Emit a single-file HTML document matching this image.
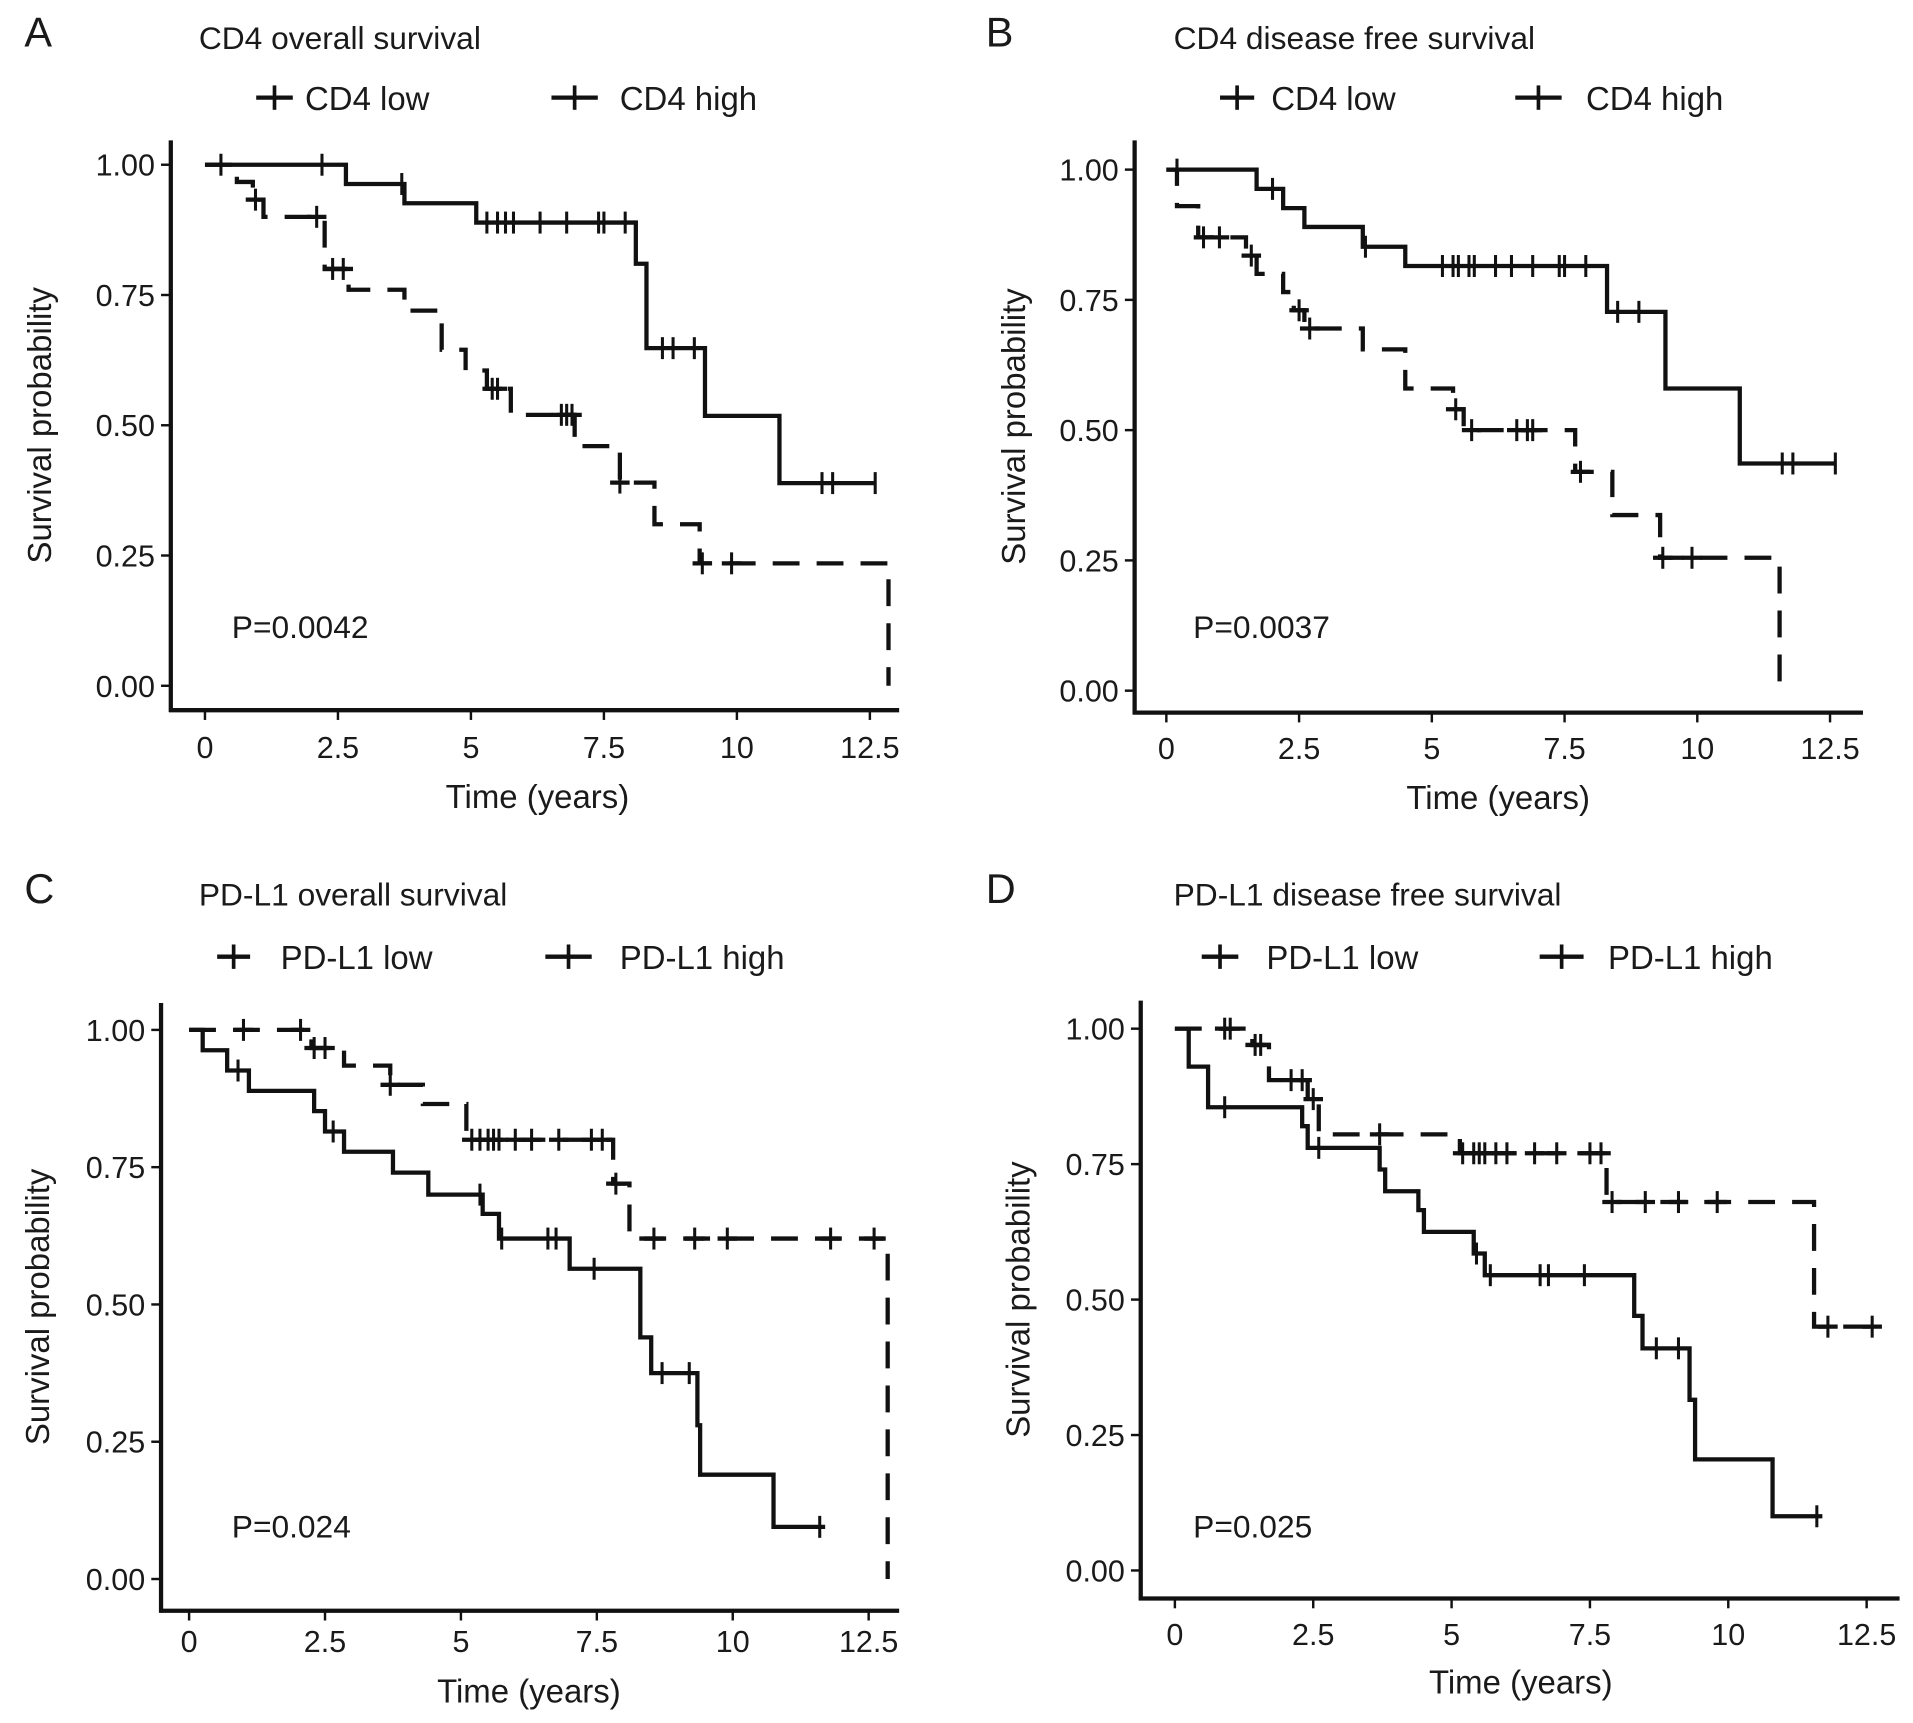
<!DOCTYPE html>
<html><head><meta charset="utf-8">
<style>
html,body{margin:0;padding:0;background:#fff;}
svg{display:block;}
text{font-family:"Liberation Sans",Arial,sans-serif;fill:#1a1a1a;}
</style></head>
<body>
<svg id="fig" width="1913" height="1723" viewBox="0 0 1568 1412" preserveAspectRatio="none" xmlns="http://www.w3.org/2000/svg"></svg>
<script>
// ---- data (time in years, survival probability) ----
const xTicks = [0, 2.5, 5, 7.5, 10, 12.5];
const xTickLabels = ["0", "2.5", "5", "7.5", "10", "12.5"];
const yTicks = [0, 0.25, 0.5, 0.75, 1.0];
const yTickLabels = ["0.00", "0.25", "0.50", "0.75", "1.00"];

// Panel A
const aHighT = [2.65, 3.75, 5.1, 8.1, 8.3, 9.4, 10.8];
const aHighS = [0.963, 0.926, 0.889, 0.81, 0.648, 0.518, 0.389];
const aHighC = [0.3, 2.2, 3.7, 5.3, 5.5, 5.65, 5.8, 6.3, 6.8, 7.4, 7.5, 7.9, 8.6, 8.8, 9.2, 11.6, 11.8, 12.6];
const aHighEnd = 12.6;
const aLowT = [0.6, 0.9, 1.1, 2.25, 2.7, 3.75, 4.45, 4.9, 5.3, 5.75, 6.95, 7.8, 8.45, 9.3, 12.85];
const aLowS = [0.967, 0.933, 0.9, 0.8, 0.76, 0.72, 0.645, 0.605, 0.57, 0.52, 0.46, 0.39, 0.31, 0.235, 0];
const aLowC = [0.95, 2.1, 2.4, 2.6, 5.4, 5.5, 6.7, 6.8, 6.9, 7.8, 9.35, 9.9];
const aLowEnd = 12.85;

// Panel B
const bHighT = [1.7, 2.2, 2.6, 3.7, 4.5, 8.3, 9.4, 10.8];
const bHighS = [0.963, 0.926, 0.89, 0.852, 0.815, 0.727, 0.58, 0.436];
const bHighC = [0.2, 2.0, 3.75, 5.2, 5.4, 5.5, 5.7, 5.8, 6.2, 6.5, 6.9, 7.4, 7.5, 7.9, 8.5, 8.9, 11.6, 11.8, 12.6];
const bHighEnd = 12.6;
const bLowT = [0.2, 0.6, 1.5, 1.7, 2.2, 2.4, 2.6, 3.7, 4.5, 5.4, 5.6, 7.7, 8.4, 9.3, 11.55];
const bLowS = [0.93, 0.87, 0.835, 0.8, 0.765, 0.73, 0.695, 0.655, 0.58, 0.54, 0.5, 0.42, 0.337, 0.255, 0];
const bLowC = [0.7, 1.0, 1.6, 2.5, 2.7, 5.45, 5.75, 6.6, 6.8, 6.9, 7.8, 9.35, 9.9];
const bLowEnd = 11.55;

// Panel C
const cHighT = [0.25, 0.7, 1.1, 2.3, 2.5, 2.85, 3.75, 4.4, 5.4, 5.7, 7.0, 8.3, 8.5, 9.35, 9.4, 10.75];
const cHighS = [0.963, 0.926, 0.889, 0.852, 0.815, 0.778, 0.74, 0.70, 0.665, 0.62, 0.565, 0.44, 0.375, 0.28, 0.19, 0.095];
const cHighC = [0.9, 2.65, 5.35, 5.75, 6.6, 6.75, 7.45, 8.7, 9.2, 11.6];
const cHighEnd = 11.7;
const cLowT = [2.25, 2.85, 3.7, 4.3, 5.1, 7.8, 8.1, 12.85];
const cLowS = [0.967, 0.935, 0.90, 0.865, 0.8, 0.72, 0.62, 0];
const cLowC = [1.0, 2.05, 2.3, 2.5, 3.7, 5.2, 5.35, 5.5, 5.6, 5.7, 6.0, 6.3, 6.8, 7.4, 7.6, 7.85, 8.55, 9.3, 9.9, 11.8, 12.6];
const cLowEnd = 12.85;

// Panel D
const dHighT = [0.25, 0.6, 2.3, 2.4, 3.7, 3.8, 4.4, 4.5, 5.4, 5.6, 8.3, 8.45, 9.3, 9.4, 10.8];
const dHighS = [0.93, 0.855, 0.82, 0.78, 0.74, 0.70, 0.665, 0.625, 0.585, 0.545, 0.47, 0.41, 0.315, 0.205, 0.1];
const dHighC = [0.9, 2.6, 5.45, 5.7, 6.6, 6.75, 7.4, 8.7, 9.1, 11.6];
const dHighEnd = 11.7;
const dLowT = [1.4, 1.7, 2.4, 2.6, 5.15, 7.8, 11.55];
const dLowS = [0.97, 0.905, 0.87, 0.805, 0.77, 0.68, 0.45];
const dLowC = [0.9, 1.0, 1.45, 1.55, 2.1, 2.3, 2.5, 3.7, 5.2, 5.4, 5.5, 5.6, 5.8, 6.0, 6.5, 6.9, 7.5, 7.7, 7.9, 8.5, 9.1, 9.8, 11.8, 12.6];
const dLowEnd = 12.65;

const NS = "http://www.w3.org/2000/svg";
const svg = document.getElementById("fig");
function mk(tag, attrs, parent) {
  const e = document.createElementNS(NS, tag);
  for (const k in attrs) e.setAttribute(k, attrs[k]);
  (parent || svg).appendChild(e);
  return e;
}
function txt(str, x, y, size, anchor, parent, name) {
  const t = mk("text", {x: x, y: y, "font-size": size, "text-anchor": anchor || "start"}, parent);
  t.textContent = str;
  
  
  return t;
}

const panels = [
  {id:"a", letter:"A", title:"CD4 overall survival", low:"CD4 low", high:"CD4 high", p:"P=0.0042",
   ax:140, top:115, bot:582, right:737, x0:168, x125:713, y1:135, y0:562,
   lx:20, tx:163, ty:40, ly:80, lowL:[210,240], lowTx:250, highL:[452,490], highTx:508, px:190, py:523, xlab:621, xt:662, yt:32,
   hT:aHighT, hS:aHighS, hC:aHighC, hE:aHighEnd, lT:aLowT, lS:aLowS, lC:aLowC, lE:aLowEnd},
  {id:"b", letter:"B", title:"CD4 disease free survival", low:"CD4 low", high:"CD4 high", p:"P=0.0037",
   ax:930, top:115, bot:584, right:1527, x0:956, x125:1500, y1:139, y0:566,
   lx:808, tx:962, ty:40, ly:80, lowL:[1000,1028], lowTx:1042, highL:[1242,1280], highTx:1300, px:978, py:523, xlab:622, xt:663, yt:830,
   hT:bHighT, hS:bHighS, hC:bHighC, hE:bHighEnd, lT:bLowT, lS:bLowS, lC:bLowC, lE:bLowEnd},
  {id:"c", letter:"C", title:"PD-L1 overall survival", low:"PD-L1 low", high:"PD-L1 high", p:"P=0.024",
   ax:132, top:822, bot:1320, right:737, x0:155, x125:712, y1:844, y0:1294,
   lx:20, tx:163, ty:742, ly:784, lowL:[178,205], lowTx:230, highL:[447,485], highTx:508, px:190, py:1260, xlab:1354, xt:1395, yt:30,
   hT:cHighT, hS:cHighS, hC:cHighC, hE:cHighEnd, lT:cLowT, lS:cLowS, lC:cLowC, lE:cLowEnd},
  {id:"d", letter:"D", title:"PD-L1 disease free survival", low:"PD-L1 low", high:"PD-L1 high", p:"P=0.025",
   ax:935, top:820, bot:1310, right:1557, x0:963, x125:1530, y1:843, y0:1287,
   lx:808, tx:962, ty:742, ly:784, lowL:[985,1015], lowTx:1038, highL:[1262,1298], highTx:1318, px:978, py:1260, xlab:1348, xt:1388, yt:834,
   hT:dHighT, hS:dHighS, hC:dHighC, hE:dHighEnd, lT:dLowT, lS:dLowS, lC:dLowC, lE:dLowEnd}
];

const DASH = "22 14";
function survAt(T, S, t) { let s = 1; for (let i = 0; i < T.length; i++) if (T[i] <= t) s = S[i]; return s; }
function stepPath(T, S, end, X, Y) {
  let d = "M" + X(0) + "," + Y(1); let s = 1;
  for (let i = 0; i < T.length; i++) {
    d += " L" + X(T[i]) + "," + Y(s) + " L" + X(T[i]) + "," + Y(S[i]); s = S[i];
  }
  if (end > T[T.length - 1]) d += " L" + X(end) + "," + Y(s);
  return d;
}

panels.forEach(P => {
  const g = mk("g", {});
  
  
  const X = t => P.x0 + t * (P.x125 - P.x0) / 12.5;
  const Y = s => P.y0 - s * (P.y0 - P.y1);

  txt(P.letter, P.lx, P.ty - 2, 34, "start", g, "panel-letter");
  txt(P.title, P.tx, P.ty, 26, "start", g, "panel-title");

  const lg = mk("g", {}, g);
  
  
  const lowLine = mk("line", {x1:P.lowL[0], y1:P.ly, x2:P.lowL[1], y2:P.ly, stroke:"#111", "stroke-width":3.5}, lg);
  
  
  const lm = (P.lowL[0] + P.lowL[1]) / 2;
  mk("line", {x1:lm, y1:P.ly-10, x2:lm, y2:P.ly+10, stroke:"#111", "stroke-width":3}, lg);
  txt(P.low, P.lowTx, P.ly + 10, 27, "start", lg, "legend-low-label");
  const hiLine = mk("line", {x1:P.highL[0], y1:P.ly, x2:P.highL[1], y2:P.ly, stroke:"#111", "stroke-width":3.5}, lg);
  
  
  const hm = (P.highL[0] + P.highL[1]) / 2;
  mk("line", {x1:hm, y1:P.ly-10, x2:hm, y2:P.ly+10, stroke:"#111", "stroke-width":3}, lg);
  txt(P.high, P.highTx, P.ly + 10, 27, "start", lg, "legend-high-label");

  const yAx = mk("line", {x1:P.ax, y1:P.top, x2:P.ax, y2:P.bot + 1.5, stroke:"#111", "stroke-width":3.5}, g);
  
  
  const xAx = mk("line", {x1:P.ax - 1.5, y1:P.bot, x2:P.right, y2:P.bot, stroke:"#111", "stroke-width":3.5}, g);
  
  
  yTicks.forEach((v, i) => {
    mk("line", {x1:P.ax - 8, y1:Y(v), x2:P.ax, y2:Y(v), stroke:"#111", "stroke-width":2}, g);
    txt(yTickLabels[i], P.ax - 13, Y(v) + 9, 25, "end", g, "y-tick-label");
  });
  xTicks.forEach((v, i) => {
    mk("line", {x1:X(v), y1:P.bot, x2:X(v), y2:P.bot + 8, stroke:"#111", "stroke-width":2}, g);
    txt(xTickLabels[i], X(v), P.xlab, 25, "middle", g, "x-tick-label");
  });
  txt("Time (years)", (P.x0 + P.x125) / 2, P.xt, 27, "middle", g, "x-axis-title");
  const yt = txt("Survival probability", 0, 0, 27, "middle", g, "y-axis-title");
  yt.setAttribute("transform", "translate(" + (P.yt + 10) + "," + ((P.top + P.bot) / 2) + ") rotate(-90)");

  txt(P.p, P.px, P.py, 26, "start", g, "p-value");

  const hp = mk("path", {d:stepPath(P.hT, P.hS, P.hE, X, Y), fill:"none", stroke:"#111", "stroke-width":3.5}, g);
  
  
  const lp = mk("path", {d:stepPath(P.lT, P.lS, P.lE, X, Y), fill:"none", stroke:"#111", "stroke-width":3.5, "stroke-dasharray":DASH}, g);
  
  

  P.hC.forEach(t => {
    const m = mk("line", {x1:X(t), y1:Y(survAt(P.hT, P.hS, t)) - 9, x2:X(t), y2:Y(survAt(P.hT, P.hS, t)) + 9, stroke:"#111", "stroke-width":2.5}, g);
    
    
  });
  P.lC.forEach(t => {
    const s = survAt(P.lT, P.lS, t);
    const m = mk("line", {x1:X(t), y1:Y(s) - 9, x2:X(t), y2:Y(s) + 9, stroke:"#111", "stroke-width":2.5}, g);
    
    
    const h = mk("line", {x1:X(t) - 8, y1:Y(s), x2:X(t) + 8, y2:Y(s), stroke:"#111", "stroke-width":3.5}, g);
    
    
  });
});
</script>
</body></html>
